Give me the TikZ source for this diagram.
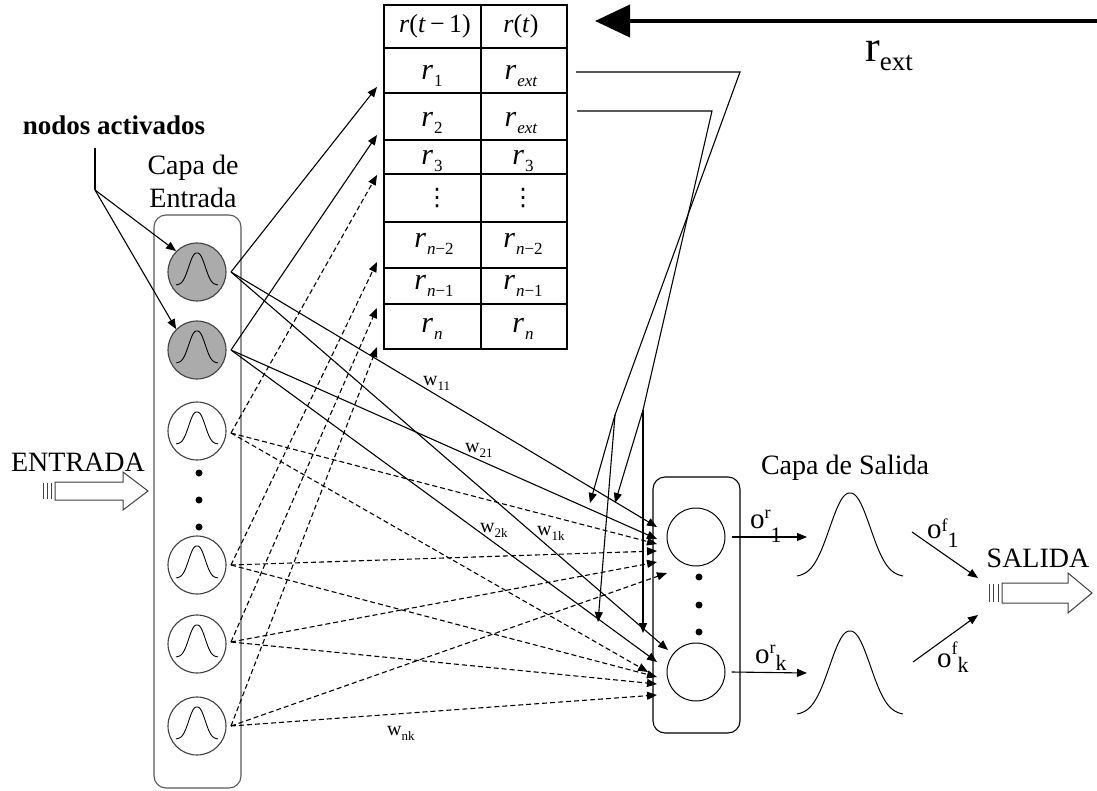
\documentclass[tikz,border=0pt]{standalone}
\usepackage{fontspec}
\setmainfont{Liberation Serif}
\newfontfamily\dejavu{DejaVu Sans}
\usetikzlibrary{arrows.meta}
\newcommand\fsz[1]{\fontsize{#1}{#1}\selectfont}
\newcommand\rsub[1]{\textit{r}\kern1pt\raisebox{-7pt}{\fsz{17}#1}}
\begin{document}
\begin{tikzpicture}[x=1pt,y=-1pt,
 ln/.style={line width=1.1pt},
 arr/.style={ln,-{Triangle[length=10pt,width=8pt]}},
 darr/.style={arr,dash pattern=on 5pt off 3pt},
 inode/.style={circle,draw=black!75,line width=1.1pt,minimum size=58pt,inner sep=0pt},
 actnode/.style={inode,fill=black!33},
 onode/.style={circle,draw,line width=1pt,minimum size=58pt,inner sep=0pt},
 txt/.style={inner sep=0pt,font=\fsz{28}},
 cellr/.style={inner sep=0pt,anchor=base,font=\fsz{30}},
 cellh/.style={inner sep=0pt,anchor=base,font=\fsz{26}},
 wlab/.style={inner sep=0pt,anchor=base west,font=\fsz{20}},
 olab/.style={inner sep=0pt,anchor=base west,font=\fsz{29}},
 bigdot/.style={circle,fill,inner sep=0pt,minimum size=7pt},
 layerbox/.style={draw,rounded corners=12pt,line width=1.1pt,inner sep=0pt},
 blockarrow/.style={draw=black!75,line width=1pt},
 pics/smallbell/.style={code={\draw[line width=0.9pt] plot[domain=-21:21,samples=61,smooth] (\x,{-32*exp(-pow(abs(\x)/10.5,2.4))});}},
 pics/bigbell/.style={code={\draw[line width=1pt] plot[domain=-53:53,samples=107,smooth] (\x,{-84*exp(-pow(abs(\x)/27,2.2))});}},
]
\fill[white] (0,0) rectangle (1097,791);
\useasboundingbox (0,0) rectangle (1097,791);

% ---------- table ----------
\draw[ln] (384,5) rectangle (567,349);
\draw[ln] (481,5) -- (481,349);
\foreach \y in {48,93,140,174,222,268,304} \draw[ln] (384,\y) -- (567,\y);
\node[cellh] (h1) at (435,33) {\textit{r}(\textit{t}\,−\,1)};
\node[cellh] (h2) at (521,33) {\textit{r}(\textit{t})};
\node[cellr] (a1) at (432,80) {\rsub{1}};
\node[cellr] (b1) at (521,80) {\rsub{\textit{ext}}};
\node[cellr] (a2) at (432,127) {\rsub{2}};
\node[cellr] (b2) at (521,127) {\rsub{\textit{ext}}};
\node[cellr] (a3) at (432,165) {\rsub{3}};
\node[cellr] (b3) at (523,165) {\rsub{3}};
\node[inner sep=0pt,font=\dejavu\fsz{24}] (ad) at (437,198) {⋮};
\node[inner sep=0pt,font=\dejavu\fsz{24}] (bd) at (523,198) {⋮};
\node[cellr] (a4) at (434,248) {\rsub{\textit{n}−2}};
\node[cellr] (b4) at (523,248) {\rsub{\textit{n}−2}};
\node[cellr] (a5) at (434,290) {\rsub{\textit{n}−1}};
\node[cellr] (b5) at (523,290) {\rsub{\textit{n}−1}};
\node[cellr] (a6) at (432,333) {\rsub{\textit{n}}};
\node[cellr] (b6) at (523,333) {\rsub{\textit{n}}};

% ---------- r_ext ----------
\coordinate (rxs) at (1097,21);
\coordinate (rxe) at (595,21);
\draw[line width=4pt,-{Triangle[length=35pt,width=32pt]}] (rxs) -- (rxe);
\node[inner sep=0pt,anchor=base] (rext) at (889,62) {\fsz{44}r\raisebox{-9pt}{\fsz{27}ext}};

% ---------- labels ----------
\node[inner sep=0pt,font=\fsz{27}\bfseries] (nodos) at (114,125) {nodos activados};
\node[txt,align=center,font=\fontsize{28}{33}\selectfont] (capaE) at (193,181) {Capa de\\Entrada};
\node[txt] (capaS) at (845,468) {Capa de Salida};
\node[txt] (entrada) at (78,462) {ENTRADA};
\node[txt] (salida) at (1038,558) {SALIDA};

% ---------- input layer ----------
\node[layerbox,draw=black!65,minimum width=87pt,minimum height=573pt] (inbox) at (197.5,501.5) {};
\node[actnode] (in1) at (197,272) {};
\node[actnode] (in2) at (197,350) {};
\node[inode] (in3) at (197,431) {};
\node[inode] (in4) at (197,565) {};
\node[inode] (in5) at (197,644) {};
\node[inode] (in6) at (197,726) {};
\foreach \y in {285,363,444,578,657,739} \pic at (197,\y) {smallbell};
\node[bigdot] (id1) at (199,473) {};
\node[bigdot] (id2) at (199,500) {};
\node[bigdot] (id3) at (199,527) {};

% ---------- output layer ----------
\node[layerbox,minimum width=87pt,minimum height=256pt] (outbox) at (696.5,605) {};
\node[onode] (out1) at (696,537) {};
\node[onode] (outk) at (696,672) {};
\node[bigdot] (od1) at (699,577) {};
\node[bigdot] (od2) at (699,605) {};
\node[bigdot] (od3) at (699,632) {};
\pic at (850,577) {bigbell};
\pic at (850,715) {bigbell};

% ---------- nodos activados pointer ----------
\coordinate (na1) at (95,148);
\coordinate (na2) at (95,190);
\draw[ln] (na1) -- (na2);
\draw[arr] (na2) -- (in1.north west);
\draw[arr] (na2) -- (in2.north west);

% ---------- start points ----------
\coordinate (p1) at (231,272);
\coordinate (p2) at (231,350);
\coordinate (p3) at (231,433);
\coordinate (p4) at (231,565);
\coordinate (p5) at (231,642);
\coordinate (p6) at (231,726);

% ---------- to table ----------
\coordinate (t1) at (377,87);
\coordinate (t2) at (377,135);
\coordinate (t3) at (377,175);
\coordinate (t4) at (377,262);
\coordinate (t5) at (377,308);
\coordinate (t6) at (377,347);
\draw[arr] (p1) -- (t1);
\draw[arr] (p2) -- (t2);
\draw[darr] (p3) -- (t3);
\draw[darr] (p4) -- (t4);
\draw[darr] (p5) -- (t5);
\draw[darr] (p6) -- (t6);

% ---------- to output nodes ----------
\coordinate (c11) at (657,527);
\coordinate (c21) at (657,539);
\coordinate (c31) at (657,544);
\coordinate (c41) at (657,551);
\coordinate (c51) at (657,562);
\coordinate (c61) at (667,573);
\coordinate (c1k) at (668,650);
\coordinate (c2k) at (657,662);
\coordinate (c3k) at (648,672);
\coordinate (c4k) at (657,677);
\coordinate (c5k) at (657,684);
\coordinate (c6k) at (657,695);
\draw[arr] (p1) -- (c11);
\draw[arr] (p2) -- (c21);
\draw[darr] (p3) -- (c31);
\draw[darr] (p4) -- (c41);
\draw[darr] (p5) -- (c51);
\draw[darr] (p6) -- (c61);
\draw[arr] (p1) -- (c1k);
\draw[arr] (p2) -- (c2k);
\draw[darr] (p3) -- (c3k);
\draw[darr] (p4) -- (c4k);
\draw[darr] (p5) -- (c5k);
\draw[darr] (p6) -- (c6k);

\node[wlab] (w11) at (423,385) {w\raisebox{-5pt}{\fsz{13}11}};
\node[wlab] (w21) at (465,452) {w\raisebox{-5pt}{\fsz{13}21}};
\node[wlab] (w2k) at (480,532) {w\raisebox{-5pt}{\fsz{13}2k}};
\node[wlab] (w1k) at (537,535) {w\raisebox{-5pt}{\fsz{13}1k}};
\node[wlab] (wnk) at (387,735) {w\raisebox{-5pt}{\fsz{13}nk}};

% ---------- feedback ----------
\coordinate (f1s) at (576,72);
\coordinate (f1c) at (740,72);
\coordinate (f1j) at (615,415);
\coordinate (f1a) at (590,503);
\coordinate (f1b) at (598,622);
\coordinate (f2s) at (577,111);
\coordinate (f2c) at (712,111);
\coordinate (f2j) at (643,410);
\coordinate (f2a) at (615,503);
\coordinate (f2b) at (643,633);
\draw[ln] (f1s) -- (f1c) -- (f1j);
\draw[arr] (f1j) -- (f1a);
\draw[arr] (f1j) -- (f1b);
\draw[ln] (f2s) -- (f2c) -- (f2j);
\draw[arr] (f2j) -- (f2a);
\draw[arr] (f2j) -- (f2b);

% ---------- output arrows ----------
\coordinate (or1e) at (807,537);
\coordinate (orke) at (807,673);
\draw[arr] ([xshift=6pt]out1.east) -- (or1e);
\draw[arr] ([xshift=6pt]outk.east) -- (orke);
\node[olab] (or1) at (750,528) {o\raisebox{10pt}{\fsz{18}r}\raisebox{-14pt}{\fsz{22}1}};
\node[olab] (ork) at (755,663) {o\raisebox{10pt}{\fsz{18}r}\raisebox{-7pt}{\fsz{22}k}};
\coordinate (f1o) at (912,532);
\coordinate (f1t) at (978,578);
\coordinate (fko) at (913,662);
\coordinate (fkt) at (978,615);
\draw[arr] (f1o) -- (f1t);
\draw[arr] (fko) -- (fkt);
\node[olab] (of1) at (927,538) {o\raisebox{7pt}{\fsz{18}f}\raisebox{-9pt}{\fsz{22}1}};
\node[olab] (ofk) at (937,667) {o\raisebox{13pt}{\fsz{18}f}\raisebox{-5pt}{\fsz{22}k}};

% ---------- block arrows ----------
\draw[blockarrow] (55,482) -- (123,482) -- (123,472) -- (148,491) -- (123,510) -- (123,500) -- (55,500) -- cycle;
\foreach \x in {43,47,51} \draw[blockarrow] (\x,483) -- (\x,499);
\draw[blockarrow] (1002,583) -- (1068,583) -- (1068,573) -- (1092,593) -- (1068,613) -- (1068,603) -- (1002,603) -- cycle;
\foreach \x in {989,993,998} \draw[blockarrow] (\x,584) -- (\x,602);
\end{tikzpicture}
\end{document}
